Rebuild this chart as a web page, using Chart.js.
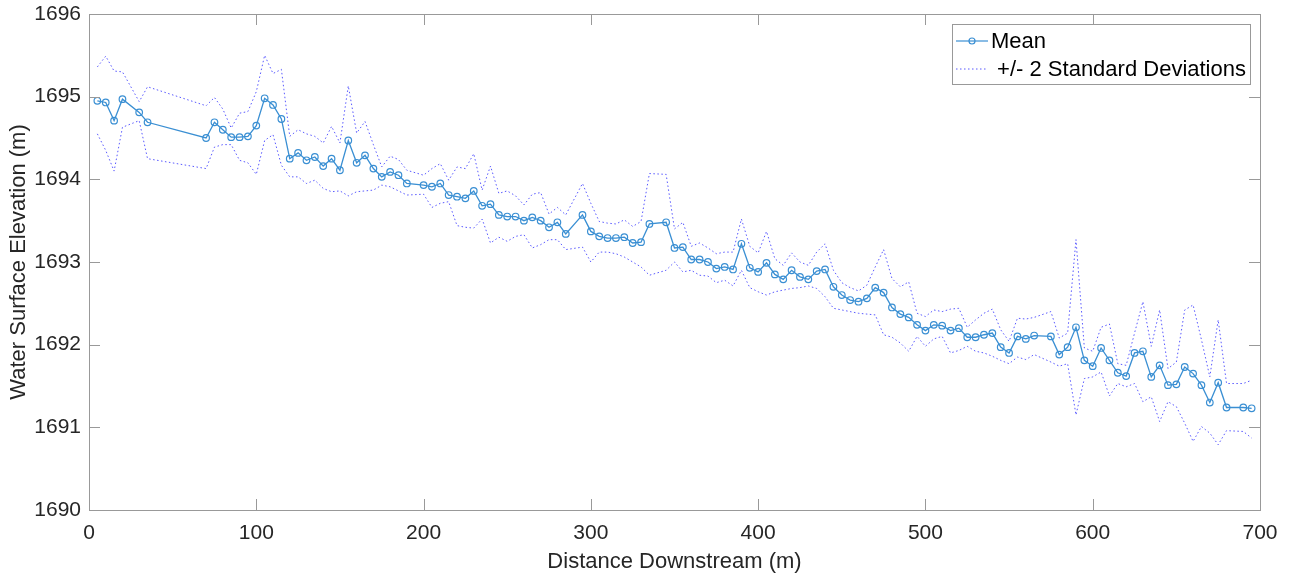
<!DOCTYPE html>
<html>
<head>
<meta charset="utf-8">
<script src="https://cdn.jsdelivr.net/npm/chart.js@4"></script>
<style>
  html, body { margin: 0; padding: 0; background: #fff; }
  #wrap { width: 1291px; height: 575px; }
</style>
</head>
<body>
<div id="wrap"><canvas id="myChart" width="1291" height="575"></canvas></div>
<script>
// distance downstream (m)
const distance = [5, 10, 15, 20, 30, 35, 70, 75, 80, 85, 90, 95, 100, 105, 110, 115, 120, 125, 130, 135,
  140, 145, 150, 155, 160, 165, 170, 175, 180, 185, 190, 200, 205, 210, 215, 220, 225, 230, 235, 240,
  245, 250, 255, 260, 265, 270, 275, 280, 285, 295, 300, 305, 310, 315, 320, 325, 330, 335, 345, 350,
  355, 360, 365, 370, 375, 380, 385, 390, 395, 400, 405, 410, 415, 420, 425, 430, 435, 440, 445, 450,
  455, 460, 465, 470, 475, 480, 485, 490, 495, 500, 505, 510, 515, 520, 525, 530, 535, 540, 545, 550,
  555, 560, 565, 575, 580, 585, 590, 595, 600, 605, 610, 615, 620, 625, 630, 635, 640, 645, 650, 655,
  660, 665, 670, 675, 680, 690, 695];

// mean water surface elevation (m)
const meanElev = [1694.95, 1694.93, 1694.71, 1694.97, 1694.81, 1694.69, 1694.50, 1694.69, 1694.60, 1694.51,
  1694.51, 1694.52, 1694.65, 1694.98, 1694.90, 1694.73, 1694.25, 1694.32, 1694.23, 1694.27,
  1694.16, 1694.25, 1694.11, 1694.47, 1694.20, 1694.29, 1694.13, 1694.03, 1694.09, 1694.05,
  1693.95, 1693.93, 1693.91, 1693.95, 1693.81, 1693.79, 1693.77, 1693.86, 1693.68, 1693.70,
  1693.57, 1693.55, 1693.55, 1693.50, 1693.54, 1693.50, 1693.42, 1693.48, 1693.34, 1693.57,
  1693.37, 1693.31, 1693.29, 1693.29, 1693.30, 1693.23, 1693.24, 1693.46, 1693.48, 1693.17,
  1693.18, 1693.03, 1693.03, 1693.00, 1692.92, 1692.94, 1692.91, 1693.22, 1692.93, 1692.88,
  1692.99, 1692.85, 1692.79, 1692.90, 1692.82, 1692.79, 1692.89, 1692.91, 1692.70, 1692.60,
  1692.54, 1692.52, 1692.56, 1692.69, 1692.63, 1692.45, 1692.37, 1692.33, 1692.24, 1692.17,
  1692.24, 1692.23, 1692.17, 1692.20, 1692.09, 1692.09, 1692.12, 1692.14, 1691.97, 1691.90,
  1692.10, 1692.07, 1692.11, 1692.10, 1691.88, 1691.97, 1692.21, 1691.81, 1691.74, 1691.96,
  1691.81, 1691.66, 1691.62, 1691.90, 1691.92, 1691.61, 1691.75, 1691.51, 1691.52, 1691.73,
  1691.65, 1691.51, 1691.30, 1691.54, 1691.24, 1691.24, 1691.23];

// mean + 2 sd
const upperElev = [1695.36, 1695.49, 1695.31, 1695.30, 1694.94, 1695.12, 1694.89, 1694.99, 1694.85, 1694.62,
  1694.80, 1694.82, 1695.06, 1695.50, 1695.28, 1695.33, 1694.52, 1694.60, 1694.55, 1694.52,
  1694.44, 1694.64, 1694.44, 1695.13, 1694.56, 1694.70, 1694.42, 1694.15, 1694.28, 1694.24,
  1694.11, 1694.05, 1694.13, 1694.19, 1693.99, 1694.15, 1694.13, 1694.31, 1693.87, 1694.16,
  1693.83, 1693.86, 1693.80, 1693.69, 1693.82, 1693.84, 1693.58, 1693.66, 1693.57, 1693.95,
  1693.71, 1693.49, 1693.47, 1693.46, 1693.51, 1693.43, 1693.49, 1694.07, 1694.06, 1693.40,
  1693.48, 1693.19, 1693.23, 1693.17, 1693.10, 1693.12, 1693.12, 1693.52, 1693.19, 1693.11,
  1693.37, 1693.04, 1692.96, 1693.11, 1693.00, 1692.96, 1693.12, 1693.22, 1692.90, 1692.75,
  1692.69, 1692.65, 1692.72, 1692.94, 1693.15, 1692.80, 1692.70, 1692.76, 1692.38, 1692.34,
  1692.42, 1692.40, 1692.43, 1692.44, 1692.21, 1692.30, 1692.38, 1692.43, 1692.18, 1692.04,
  1692.32, 1692.31, 1692.33, 1692.40, 1692.08, 1692.14, 1693.27, 1691.96, 1691.92, 1692.21,
  1692.25, 1691.77, 1691.75, 1692.14, 1692.52, 1691.98, 1692.42, 1691.71, 1691.79, 1692.42,
  1692.48, 1692.06, 1691.61, 1692.30, 1691.53, 1691.53, 1691.57];

// mean - 2 sd
const lowerElev = [1694.55, 1694.35, 1694.10, 1694.63, 1694.71, 1694.25, 1694.13, 1694.39, 1694.42, 1694.42,
  1694.23, 1694.20, 1694.06, 1694.47, 1694.54, 1694.17, 1694.03, 1694.03, 1693.95, 1693.99,
  1693.89, 1693.85, 1693.86, 1693.80, 1693.85, 1693.86, 1693.87, 1693.93, 1693.91, 1693.86,
  1693.81, 1693.82, 1693.66, 1693.71, 1693.73, 1693.44, 1693.42, 1693.41, 1693.52, 1693.23,
  1693.30, 1693.25, 1693.31, 1693.33, 1693.17, 1693.21, 1693.27, 1693.27, 1693.15, 1693.18,
  1693.00, 1693.12, 1693.12, 1693.10, 1693.06, 1693.00, 1692.94, 1692.84, 1692.90, 1693.00,
  1692.88, 1692.90, 1692.84, 1692.83, 1692.75, 1692.78, 1692.71, 1692.90, 1692.69, 1692.64,
  1692.60, 1692.64, 1692.66, 1692.68, 1692.69, 1692.71, 1692.68, 1692.58, 1692.44, 1692.42,
  1692.40, 1692.38, 1692.37, 1692.36, 1692.12, 1692.09, 1692.02, 1691.92, 1692.10, 1691.98,
  1692.07, 1692.10, 1691.90, 1691.93, 1691.98, 1691.92, 1691.90, 1691.86, 1691.81, 1691.77,
  1691.85, 1691.82, 1691.88, 1691.79, 1691.74, 1691.77, 1691.15, 1691.59, 1691.61, 1691.67,
  1691.38, 1691.53, 1691.49, 1691.53, 1691.31, 1691.37, 1691.07, 1691.31, 1691.25, 1691.05,
  1690.83, 1691.01, 1690.93, 1690.79, 1690.96, 1690.95, 1690.87];

const xTicks = [0, 100, 200, 300, 400, 500, 600, 700];
const yTicks = [1690, 1691, 1692, 1693, 1694, 1695, 1696];

const FONT = '"Liberation Sans", Arial, Helvetica, sans-serif';
const AXIS_COLOR = '#999999';
const TEXT_COLOR = '#262626';
const MEAN_COLOR = '#3a8fd3';
const BAND_COLOR = 'rgba(60, 60, 255, 0.85)';

const toPts = ys => distance.map((d, i) => ({ x: d, y: ys[i] }));

// box around the plot with inward ticks on all four sides (MATLAB style)
const boxPlugin = {
  id: 'boxTicks',
  afterDatasetsDraw(chart) {
    const { ctx, chartArea: a, scales } = chart;
    const len = 11;
    ctx.save();
    ctx.strokeStyle = AXIS_COLOR;
    ctx.lineWidth = 1;
    ctx.beginPath();
    scales.x.ticks.forEach(t => {
      const px = Math.round(scales.x.getPixelForValue(t.value)) + 0.5;
      ctx.moveTo(px, a.bottom); ctx.lineTo(px, a.bottom - len);
      ctx.moveTo(px, a.top); ctx.lineTo(px, a.top + len);
    });
    scales.y.ticks.forEach(t => {
      const py = Math.round(scales.y.getPixelForValue(t.value)) + 0.5;
      ctx.moveTo(a.left, py); ctx.lineTo(a.left + len, py);
      ctx.moveTo(a.right, py); ctx.lineTo(a.right - len, py);
    });
    ctx.stroke();
    ctx.strokeRect(Math.round(a.left) + 0.5, Math.round(a.top) + 0.5,
      Math.round(a.right - a.left), Math.round(a.bottom - a.top));
    ctx.restore();
  }
};

// legend box in the top right corner of the plot
const legendPlugin = {
  id: 'boxLegend',
  afterDraw(chart) {
    const { ctx, chartArea: a } = chart;
    const bx = a.right - 308, by = a.top + 10, bw = 298, bh = 60;
    ctx.save();
    ctx.fillStyle = '#ffffff';
    ctx.fillRect(bx, by, bw, bh);
    ctx.strokeStyle = AXIS_COLOR;
    ctx.lineWidth = 1;
    ctx.strokeRect(Math.round(bx) + 0.5, Math.round(by) + 0.5, bw, bh);

    // mean sample
    const y1 = by + 17, y2 = by + 45;
    ctx.strokeStyle = MEAN_COLOR;
    ctx.lineWidth = 1.2;
    ctx.beginPath();
    ctx.moveTo(bx + 4, y1); ctx.lineTo(bx + 36, y1);
    ctx.stroke();
    ctx.beginPath();
    ctx.arc(bx + 20, y1, 3, 0, Math.PI * 2);
    ctx.stroke();

    // band sample
    ctx.strokeStyle = BAND_COLOR;
    ctx.lineWidth = 1;
    ctx.setLineDash([1.5, 2.5]);
    ctx.beginPath();
    ctx.moveTo(bx + 4, y2); ctx.lineTo(bx + 36, y2);
    ctx.stroke();
    ctx.setLineDash([]);

    ctx.fillStyle = '#000000';
    ctx.font = '22px ' + FONT;
    ctx.textBaseline = 'middle';
    ctx.textAlign = 'left';
    ctx.fillText('Mean', bx + 39, y1 + 1);
    ctx.fillText(' +/- 2 Standard Deviations', bx + 39, y2 + 1);
    ctx.restore();
  }
};

const ctx = document.getElementById('myChart').getContext('2d');
new Chart(ctx, {
  type: 'line',
  data: {
    datasets: [
      {
        label: 'Mean',
        data: toPts(meanElev),
        borderColor: MEAN_COLOR,
        backgroundColor: 'rgba(0,0,0,0)',
        borderWidth: 1.3,
        pointRadius: 3.3,
        pointBorderWidth: 1.2,
        pointBorderColor: MEAN_COLOR,
        pointBackgroundColor: 'rgba(0,0,0,0)',
        tension: 0
      },
      {
        label: '+/- 2 Standard Deviations',
        data: toPts(upperElev),
        borderColor: BAND_COLOR,
        borderWidth: 1,
        borderDash: [1.5, 2.5],
        pointRadius: 0,
        tension: 0
      },
      {
        label: 'lower',
        data: toPts(lowerElev),
        borderColor: BAND_COLOR,
        borderWidth: 1,
        borderDash: [1.5, 2.5],
        pointRadius: 0,
        tension: 0
      }
    ]
  },
  options: {
    responsive: false,
    animation: false,
    layout: { padding: { left: 0, top: 14, right: 31, bottom: 0 } },
    scales: {
      x: {
        type: 'linear',
        min: 0,
        max: 700,
        afterBuildTicks: s => { s.ticks = xTicks.map(v => ({ value: v })); },
        afterFit: s => { s.height = 65; s.paddingLeft = 0; s.paddingRight = 0; },
        grid: { display: false },
        border: { display: false },
        ticks: {
          color: TEXT_COLOR,
          padding: 3,
          font: { family: FONT, size: 21 },
          callback: v => String(v)
        },
        title: {
          display: true,
          text: 'Distance Downstream (m)',
          color: TEXT_COLOR,
          padding: { top: 0, bottom: 0 },
          font: { family: FONT, size: 22 }
        }
      },
      y: {
        type: 'linear',
        min: 1690,
        max: 1696,
        afterBuildTicks: s => { s.ticks = yTicks.map(v => ({ value: v })); },
        afterFit: s => { s.width = 89; s.paddingTop = 0; s.paddingBottom = 0; },
        grid: { display: false },
        border: { display: false },
        ticks: {
          color: TEXT_COLOR,
          padding: 0,
          font: { family: FONT, size: 21 },
          callback: v => String(v)
        },
        title: {
          display: true,
          text: 'Water Surface Elevation (m)',
          color: TEXT_COLOR,
          padding: { top: 6, bottom: 0 },
          font: { family: FONT, size: 22 }
        }
      }
    },
    plugins: {
      legend: { display: false },
      title: { display: false },
      tooltip: { enabled: false }
    }
  },
  plugins: [boxPlugin, legendPlugin]
});
</script>
</body>
</html>
